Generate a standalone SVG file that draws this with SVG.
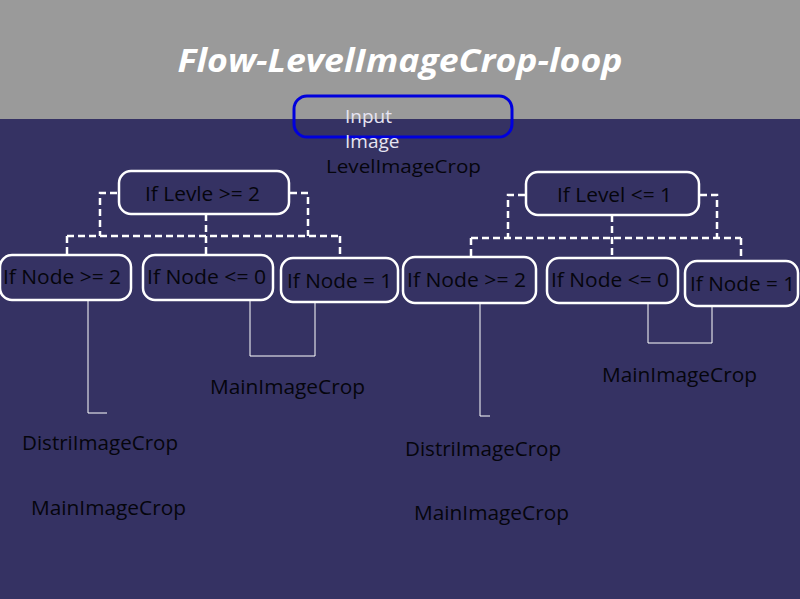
<svg xmlns="http://www.w3.org/2000/svg" width="800" height="599" viewBox="0 0 800 599">
<style>
.t{font-family:"Open Sans","Liberation Sans",sans-serif;font-size:20px;fill:#05050c}
.box{fill:#353263;stroke:#ffffff;stroke-width:2.5}
.dash{fill:none;stroke:#ffffff;stroke-width:2.5;stroke-dasharray:7 4}
.solid{fill:none;stroke:#ffffff;stroke-width:1}
</style>
<rect x="0" y="0" width="800" height="599" fill="#353263"/>
<rect x="0" y="0" width="800" height="119" fill="#9a9a9a"/>
<text x="400" y="72" text-anchor="middle" font-family="'Open Sans','Liberation Sans',sans-serif" font-size="33" font-weight="bold" font-style="italic" fill="#ffffff" textLength="445" lengthAdjust="spacingAndGlyphs">Flow-LevelImageCrop-loop</text>
<g id="input">
<rect x="294" y="96" width="218" height="41" rx="13" fill="none" stroke="#0000dd" stroke-width="3"/>
<text font-family="'Open Sans','Liberation Sans',sans-serif" font-size="19" fill="#e6e4f2"><tspan x="345" y="123">Input</tspan><tspan x="345" y="148">Image</tspan></text>
</g>
<g id="lbl-level"><text class="t" x="326" y="173" style="font-size:19px" textLength="155" lengthAdjust="spacingAndGlyphs">LevelImageCrop</text></g>
<g id="connectors">
<path class="dash" d="M117 193 H100 V236 M290 193 H308 V236 M67 236 H340 M206 214 V255 M67 236 V254 M340 236 V258"/>
<path class="dash" d="M525 195 H508 V237 M700 195 H717 V237 M471 238 H741 M612 215 V258 M471 238 V256 M741 238 V260"/>
<path class="solid" d="M88 300 V413 H107 M250 300 V356 H315 V302"/>
<path class="solid" d="M480 303 V416 H490 M648 303 V343 H712 V306"/>
</g>
<g id="n-levle">
<rect class="box" x="119" y="171" width="170" height="43" rx="12"/>
<text class="t" x="145" y="201" textLength="115" lengthAdjust="spacingAndGlyphs">If Levle &gt;= 2</text>
</g>
<g id="n-l-ge2">
<rect class="box" x="0" y="255" width="131" height="45" rx="12"/>
<text class="t" x="3" y="284" textLength="118" lengthAdjust="spacingAndGlyphs">If Node &gt;= 2</text>
</g>
<g id="n-l-le0">
<rect class="box" x="143" y="255" width="130" height="45" rx="12"/>
<text class="t" x="147" y="284" textLength="119" lengthAdjust="spacingAndGlyphs">If Node &lt;= 0</text>
</g>
<g id="n-l-eq1">
<rect class="box" x="281" y="258" width="117" height="44" rx="12"/>
<text class="t" x="287" y="288" textLength="105" lengthAdjust="spacingAndGlyphs">If Node = 1</text>
</g>
<g id="n-level">
<rect class="box" x="526" y="172" width="173" height="43" rx="12"/>
<text class="t" x="557" y="202" textLength="115" lengthAdjust="spacingAndGlyphs">If Level &lt;= 1</text>
</g>
<g id="n-r-ge2">
<rect class="box" x="403" y="257" width="133" height="46" rx="12"/>
<text class="t" x="407" y="287" textLength="119" lengthAdjust="spacingAndGlyphs">If Node &gt;= 2</text>
</g>
<g id="n-r-le0">
<rect class="box" x="547" y="258" width="131" height="45" rx="12"/>
<text class="t" x="551" y="287" textLength="118" lengthAdjust="spacingAndGlyphs">If Node &lt;= 0</text>
</g>
<g id="n-r-eq1">
<rect class="box" x="685" y="261" width="113" height="45" rx="12"/>
<text class="t" x="690" y="291" textLength="105" lengthAdjust="spacingAndGlyphs">If Node = 1</text>
</g>
<g id="labels">
<text class="t" x="210" y="394" textLength="155" lengthAdjust="spacingAndGlyphs">MainImageCrop</text>
<text class="t" x="22" y="450" textLength="156" lengthAdjust="spacingAndGlyphs">DistriImageCrop</text>
<text class="t" x="31" y="515" textLength="155" lengthAdjust="spacingAndGlyphs">MainImageCrop</text>
<text class="t" x="602" y="382" textLength="155" lengthAdjust="spacingAndGlyphs">MainImageCrop</text>
<text class="t" x="405" y="456" textLength="156" lengthAdjust="spacingAndGlyphs">DistriImageCrop</text>
<text class="t" x="414" y="520" textLength="155" lengthAdjust="spacingAndGlyphs">MainImageCrop</text>
</g>
</svg>
